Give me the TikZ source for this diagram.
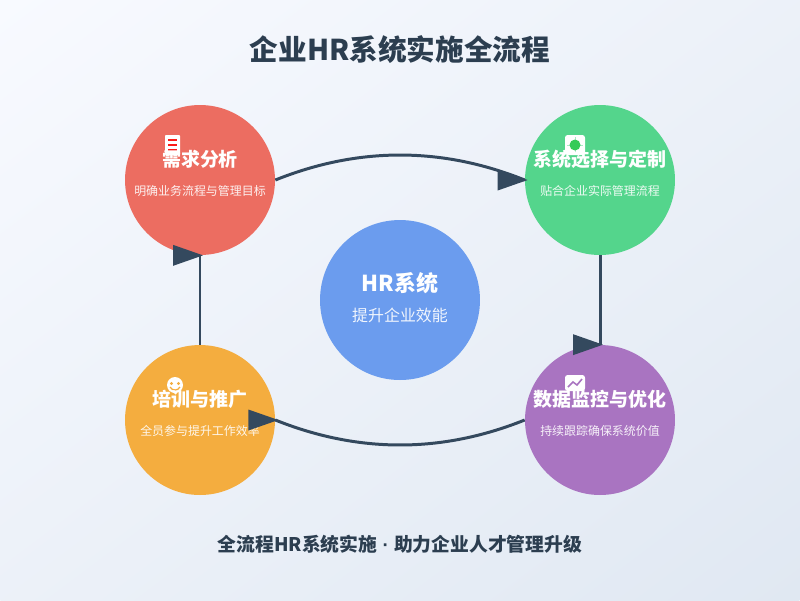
\documentclass[tikz,border=0pt]{standalone}
\usepackage{fontspec}
\setmainfont{Noto Sans CJK SC}
\newfontfamily\dotfont{Liberation Sans}
\definecolor{flowcol}{HTML}{34495E}
\definecolor{inkcol}{HTML}{2C3E50}
\definecolor{needcol}{HTML}{EC6D61}
\definecolor{selectcol}{HTML}{54D58C}
\definecolor{monitorcol}{HTML}{A974C1}
\definecolor{traincol}{HTML}{F4AD3F}
\definecolor{hrcol}{HTML}{6B9CEE}
\definecolor{bgstart}{HTML}{F8FAFF}
\definecolor{bgend}{HTML}{E0E8F2}
\tikzset{
  stage/.style={circle,minimum size=3cm,inner sep=0pt,fill=#1},
  headtext/.style={text=white,font=\fontsize{10.8}{13}\selectfont\bfseries},
  subtext/.style={text=white,opacity=.9,font=\fontsize{6.8}{8}\selectfont},
  flow/.style={draw=flowcol,line width=1.7pt}
}
% triangle with its tip 3 units past the end of the line
\newcommand{\headat}[1]{\fill[flowcol] (#1) ++(-27,-10.5)--++(0,21)--++(30,-10.5)--cycle;}
\begin{document}
\begin{tikzpicture}[x=.02cm,y=-.02cm]
\useasboundingbox (0,0) rectangle (800,600);
\begin{scope}
\clip (0,0) rectangle (800,600);
\shade[transform canvas={rotate around={-53.13:(400,300)}},left color=bgstart,right color=bgend] (-80,-200) rectangle (880,800);
\end{scope}
\node (title) at (400,50)[text=inkcol,font=\fontsize{16.3}{20}\selectfont\bfseries]{企业HR系统实施全流程};

\node[stage=needcol] (need) at (200,180){};
\node[stage=selectcol] (select) at (600,180){};
\node[stage=monitorcol] (monitor) at (600,420){};
\node[stage=traincol] (train) at (200,420){};
\node[circle,minimum size=3.2cm,inner sep=0pt,fill=hrcol] (hr) at (400,300){};

% icons
\fill[white,rounded corners=.5pt] (165,135) rectangle (180,155);
\foreach \y in {140,145,150}
    \draw[red!75!needcol,line width=1pt] (168,\y)--(177,\y);
\fill[white,rounded corners=1.5pt] (565,135) rectangle (585,155);
\draw[selectcol!50!white,line width=.5pt] (575,137)--(575,153) (567,145)--(583,145);
\fill[selectcol!70!green!90!black] (575,145) circle (5.5);
\fill[white,rounded corners=1.5pt] (565,375) rectangle (585,391);
\draw[monitorcol,line width=.9pt] (568,387)--(573,382)--(577,385)--(582,379);
\fill[white] (175,385) circle (8);
\fill[traincol] (171.5,383.5) circle (1.7) (178.5,383.5) circle (1.7);
\draw[traincol,line width=.7pt] (170,387) .. controls (172,391) and (178,391) .. (180,387);

\node[headtext] (needhead) at (200,159){需求分析};
\node[subtext] (needsub) at (200,191){明确业务流程与管理目标};
\node[headtext] (selecthead) at (600,159){系统选择与定制};
\node[subtext] (selectsub) at (600,191){贴合企业实际管理流程};
\node[headtext] (monitorhead) at (600,399){数据监控与优化};
\node[subtext] (monitorsub) at (600,431){持续跟踪确保系统价值};
\node[headtext] (trainhead) at (200,399){培训与推广};
\node[subtext] (trainsub) at (200,431){全员参与提升工作效率};
\node[text=white,font=\fontsize{12.5}{15}\selectfont\bfseries] (hrhead) at (400,283){HR系统};
\node[subtext,font=\fontsize{9.07}{11}\selectfont] (hrsub) at (400,315){提升企业效能};

\draw[flow] (need.east) .. controls (358.3,146.7) and (441.7,146.7) .. (select.west);
\draw[flow] (select.south)--(monitor.north);
\draw[flow] (monitor.west) .. controls (441.7,453.3) and (358.3,453.3) .. (train.east);
\draw[flow] (train.north)--(need.south);
\headat{select.west}
\headat{monitor.north}
\headat{train.east}
\headat{need.south}

\node (foot) at (400,544)[text=inkcol,font=\fontsize{10.7}{13}\selectfont\bfseries]{全流程HR系统实施{\dotfont\ ·\ }助力企业人才管理升级};
\end{tikzpicture}
\end{document}
